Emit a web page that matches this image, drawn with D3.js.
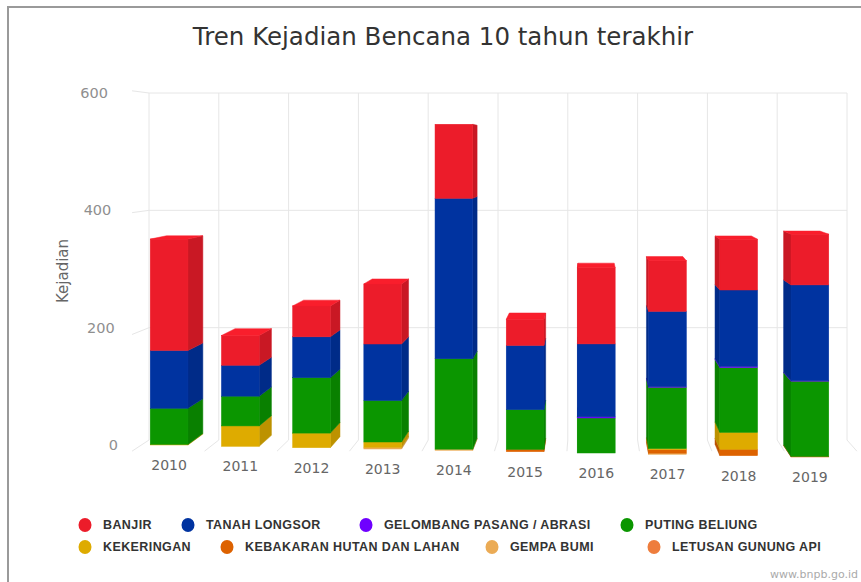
<!DOCTYPE html>
<html>
<head>
<meta charset="utf-8">
<script src="https://cdn.jsdelivr.net/npm/d3@7"></script>
<style>
  body { margin: 0; background: #fff; }
  svg { display: block; }
</style>
</head>
<body>
<svg id="chart" width="861" height="582"></svg>
<script>
// ===================== DATA =====================
const years = [2010, 2011, 2012, 2013, 2014, 2015, 2016, 2017, 2018, 2019];
const banjir        = [191, 51, 53, 103, 127, 45, 131, 87, 87, 87];
const tanahLongsor  = [99, 53, 70, 97, 275, 110, 125, 129, 131, 164];
const gelombang     = [0, 0, 0, 0, 0, 0, 2, 1, 2, 1];
const putingBeliung = [62, 51, 95, 71, 155, 68, 60, 105, 111, 129];
const kekeringan    = [1, 35, 25, 9, 0, 0, 0, 2, 29, 0];
const kebakaran     = [0, 0, 0, 0, 0, 4, 0, 6, 11, 1];
const gempaBumi     = [0, 0, 0, 3, 2, 0, 0, 2, 0, 0];
const letusan       = [0, 0, 0, 0, 0, 0, 0, 0, 0, 0];
const yTicks = [0, 200, 400, 600];

// legend order (top of stack first)
const series = [
  {key: "banjir",    label: "BANJIR",                     color: "#ec1c2a", values: banjir},
  {key: "longsor",   label: "TANAH LONGSOR",              color: "#0033a0", values: tanahLongsor},
  {key: "gelombang", label: "GELOMBANG PASANG / ABRASI",  color: "#6f00ff", values: gelombang},
  {key: "puting",    label: "PUTING BELIUNG",             color: "#0b9600", values: putingBeliung},
  {key: "kering",    label: "KEKERINGAN",                 color: "#deab00", values: kekeringan},
  {key: "hutan",     label: "KEBAKARAN HUTAN DAN LAHAN",  color: "#dd6200", values: kebakaran},
  {key: "gempa",     label: "GEMPA BUMI",                 color: "#ebab55", values: gempaBumi},
  {key: "letusan",   label: "LETUSAN GUNUNG API",         color: "#ee7d3d", values: letusan}
];

const svg = d3.select("#chart");
const FONT = "'DejaVu Sans', sans-serif";

// frame
svg.append("rect").attr("x", 8).attr("y", 7).attr("width", 900).attr("height", 600)
  .attr("fill", "#fff").attr("stroke", "#9a9a9a").attr("stroke-width", 2);

// ===================== SCALES =====================
const x = d3.scaleBand().domain(years).range([133.5, 845.5]).paddingInner(0.47).paddingOuter(0.235);
const xBack = d3.scaleLinear().domain([0, years.length]).range([149, 847]);
const yBack = d3.scaleLinear().domain([0, 600]).range([445, 93]);
const hBar = d3.scaleLinear().domain([0, 600]).range([0, 350]);
// floor tilts slightly: front baseline per x position
const base = d3.scaleLinear().domain([169, 810]).range([445, 457]);

// simple perspective: back = vp + s * (front - vp)
const vp = [590, 150], s = 0.963;
const back = p => [vp[0] + s * (p[0] - vp[0]), vp[1] + s * (p[1] - vp[1])];
const front = p => [vp[0] + (p[0] - vp[0]) / s, vp[1] + (p[1] - vp[1]) / s];

// ===================== GRID =====================
const grid = svg.append("g").attr("stroke", "#e6e6e6").attr("stroke-width", 1).attr("fill", "none");
yTicks.filter(v => v > 0).forEach(v => {
  grid.append("line").attr("x1", xBack(0)).attr("x2", xBack(years.length))
    .attr("y1", yBack(v)).attr("y2", yBack(v));
  const f = front([xBack(0), yBack(v)]);
  grid.append("line").attr("x1", f[0]).attr("y1", f[1]).attr("x2", xBack(0)).attr("y2", yBack(v));
});
d3.range(years.length + 1).forEach(i => {
  grid.append("line").attr("x1", xBack(i)).attr("x2", xBack(i))
    .attr("y1", yBack(600)).attr("y2", 440);
  const f = front([xBack(i), 440]);
  grid.append("line").attr("x1", xBack(i)).attr("y1", 440).attr("x2", f[0]).attr("y2", f[1]);
});

// y labels
const yLabX = d3.scaleLinear().domain([0, 600]).range([118, 108]);
svg.append("g").selectAll("text").data(yTicks).enter().append("text")
  .attr("x", d => yLabX(d)).attr("y", d => yBack(d)).attr("dy", "0.35em")
  .attr("text-anchor", "end").attr("font-family", FONT).attr("font-size", 14.5)
  .attr("fill", "#8f8f8f").text(d => d);

svg.append("text").attr("transform", "translate(68,271) rotate(-90)")
  .attr("text-anchor", "middle").attr("font-family", FONT).attr("font-size", 15)
  .attr("fill", "#666").text("Kejadian");

// ===================== BARS =====================
const stack = d3.stack().keys(series.map(d => d.key).reverse())
  .value((row, key) => row[key]);
const rows = years.map((yr, i) => {
  const r = {year: yr};
  series.forEach(sr => r[sr.key] = sr.values[i]);
  return r;
});
const layers = stack(rows);
const colorOf = {};
series.forEach(sr => colorOf[sr.key] = sr.color);

const poly = pts => "M" + pts.map(p => p[0] + "," + p[1]).join("L") + "Z";
const bars = svg.append("g");

years.forEach((yr, i) => {
  const x0 = x(yr), x1 = x(yr) + x.bandwidth();
  const b = base(x0 + x.bandwidth() / 2);
  const g = bars.append("g");
  const segs = layers.map(l => ({key: l.key, y0: b - hBar(l[i][0]), y1: b - hBar(l[i][1])}))
    .filter(d => d.y0 - d.y1 > 0.01);
  const leftOfVp = (x0 + x1) / 2 < vp[0];
  const ex = leftOfVp ? x1 : x0;
  segs.forEach(d => {
    const c = d3.color(colorOf[d.key]);
    // side face
    g.append("path")
      .attr("d", poly([[ex, d.y1], back([ex, d.y1]), back([ex, d.y0]), [ex, d.y0]]))
      .attr("fill", c.darker(0.45)).attr("stroke", c.darker(0.45)).attr("stroke-width", 0.5);
    // front face
    g.append("rect").attr("x", x0).attr("y", d.y1).attr("width", x1 - x0).attr("height", d.y0 - d.y1)
      .attr("fill", c).attr("stroke", c).attr("stroke-width", 0.5);
  });
  const top = segs[segs.length - 1];
  if (top && top.y1 > vp[1]) {
    const c = d3.color(colorOf[top.key]).brighter(0.15);
    g.append("path")
      .attr("d", poly([[x0, top.y1], [x1, top.y1], back([x1, top.y1]), back([x0, top.y1])]))
      .attr("fill", c).attr("stroke", c).attr("stroke-width", 0.5);
  }
});

// x labels
svg.append("g").selectAll("text").data(years).enter().append("text")
  .attr("x", d => x(d) + x.bandwidth() / 2)
  .attr("y", d => base(x(d) + x.bandwidth() / 2) + 20).attr("dy", "0.35em")
  .attr("text-anchor", "middle").attr("font-family", FONT).attr("font-size", 14)
  .attr("fill", "#666").text(d => d);

// ===================== TITLE =====================
svg.append("text").attr("x", 443).attr("y", 45).attr("text-anchor", "middle")
  .attr("font-family", FONT).attr("font-size", 24.5).attr("fill", "#333")
  .text("Tren Kejadian Bencana 10 tahun terakhir");

// ===================== LEGEND =====================
const legendPos = [[85, 525], [188, 525], [366, 525], [627, 525],
                   [85, 547], [227, 547], [492, 547], [654, 547]];
const legend = svg.append("g").selectAll("g").data(series).enter().append("g")
  .attr("transform", (d, i) => "translate(" + legendPos[i][0] + "," + legendPos[i][1] + ")");
legend.append("ellipse").attr("rx", 6.5).attr("ry", 7).attr("fill", d => d.color);
legend.append("text").attr("x", 18).attr("dy", "0.35em")
  .attr("font-family", "'Liberation Sans', Arial, sans-serif").attr("font-weight", "bold")
  .attr("font-size", 12.5).attr("letter-spacing", 0.4).attr("fill", "#333").text(d => d.label);

svg.append("text").attr("x", 858).attr("y", 578).attr("text-anchor", "end")
  .attr("font-family", FONT).attr("font-size", 11).attr("fill", "#aaa").text("www.bnpb.go.id");
</script>
</body>
</html>
